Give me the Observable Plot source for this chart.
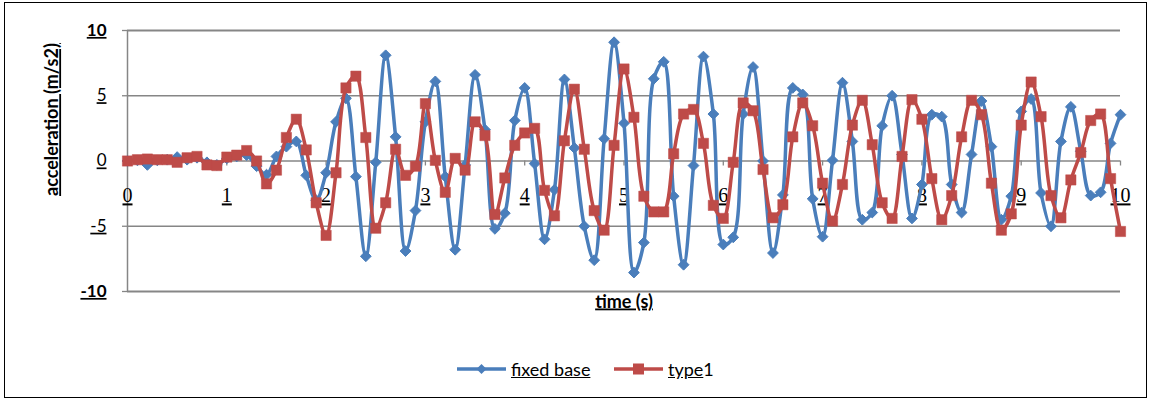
<!DOCTYPE html>
<html>
<head>
<meta charset="utf-8">
<script src="https://cdn.jsdelivr.net/npm/d3@7"></script>
<script src="https://cdn.jsdelivr.net/npm/@observablehq/plot@0.6"></script>
<style>
  html, body { margin: 0; padding: 0; background: #fff; }
  #wrap { position: relative; width: 1150px; height: 401px; overflow: hidden; }
  #wrap svg text { text-decoration: underline; }
  #border { position: absolute; left: 4px; top: 2px; width: 1141px; height: 394px; border: 1.5px solid #000; pointer-events: none; }
  .leg { position: absolute; top: 357px; height: 24px; font-family: Lato, sans-serif; font-size: 18px; line-height: 24px; color: #000; white-space: nowrap; }
  .leg svg { position: absolute; top: 0; }
  .u { text-decoration: underline; }
</style>
</head>
<body>
<div id="wrap"><div id="border"></div></div>
<script>
// time in seconds
const time = [0.0,0.1,0.2,0.3,0.4,0.5,0.6,0.7,0.8,0.9,1.0,1.1,1.2,1.3,1.4,1.5,1.6,1.7,1.8,1.9,2.0,2.1,2.2,2.3,2.4,2.5,2.6,2.7,2.8,2.9,3.0,3.1,3.2,3.3,3.4,3.5,3.6,3.7,3.8,3.9,4.0,4.1,4.2,4.3,4.4,4.5,4.6,4.7,4.8,4.9,5.0,5.1,5.2,5.3,5.4,5.5,5.6,5.7,5.8,5.9,6.0,6.1,6.2,6.3,6.4,6.5,6.6,6.7,6.8,6.9,7.0,7.1,7.2,7.3,7.4,7.5,7.6,7.7,7.8,7.9,8.0,8.1,8.2,8.3,8.4,8.5,8.6,8.7,8.8,8.9,9.0,9.1,9.2,9.3,9.4,9.5,9.6,9.7,9.8,9.9,10.0];

// fixed base acceleration (m/s2)
const fixedBase = [0,0.05,-0.3,0.05,0.1,0.3,0.1,0.25,-0.1,-0.3,
  0.2,0.35,0.45,-0.4,-1.05,0.35,1.1,1.5,-1.1,-3.0,
  -0.9,3.0,4.8,-1.2,-7.3,-0.1,8.1,1.85,-6.9,-3.8,
  3.0,6.1,-1.2,-6.8,-0.3,6.6,2.4,-5.2,-4.0,3.1,
  5.6,-0.2,-6.0,-2.2,6.25,1.0,-5.0,-7.6,1.7,9.1,
  2.9,-8.55,-6.25,6.3,7.6,-2.7,-7.95,-0.35,8.0,3.6,
  -6.4,-5.85,3.6,7.2,0,-7.05,-2.6,5.6,5.1,-2.9,
  -5.8,0.05,6.0,1.5,-4.5,-3.95,2.7,5.0,0.5,-4.4,
  -1.8,3.55,3.4,-1.8,-3.95,0.5,4.6,1.1,-4.5,-2.7,
  3.8,4.75,-2.45,-5.0,1.5,4.15,0.75,-2.65,-2.4,1.35,
  3.55];

// type1 acceleration (m/s2)
const type1 = [0,0.1,0.15,0.1,0.1,-0.1,0.25,0.35,-0.3,-0.35,
  0.3,0.45,0.8,0,-1.75,-0.7,1.8,3.2,0.85,-3.2,
  -5.7,-0.9,5.6,6.5,1.8,-5.15,-3.2,0.9,-1.1,-0.4,
  4.4,0.05,-2.4,0.2,-0.7,3.0,1.95,-4.1,-1.3,1.2,
  2.15,2.5,-2.25,-4.2,1.55,5.5,0.9,-3.8,-5.3,1.2,
  7.05,3.35,-2.7,-3.9,-3.9,0.55,3.6,3.95,1.35,-3.4,
  -4.4,-0.1,4.45,3.85,-0.65,-4.35,-3.35,1.85,4.45,2.7,
  -1.7,-4.6,-1.8,2.75,4.65,1.25,-3.2,-4.4,0.35,4.7,
  3.2,-1.35,-4.5,-2.65,1.85,4.65,3.55,-1.7,-5.3,-4.05,
  2.75,6.05,3.4,-2.65,-4.35,-1.45,0.65,3.1,3.6,-1.35,
  -5.4];

const xTicks = [0,1,2,3,4,5,6,7,8,9,10];
const yTicks = [-10,-5,0,5,10];
const seriesNames = ["fixed base", "type1"];

const blue = "#4A7EBB";
const red = "#BE4B48";
const grid = "#868686";

const data = time.map((t, i) => ({t, fixed: fixedBase[i], type1: type1[i]}));

const diamond = {
  draw(context, size) {
    const r = Math.sqrt(size / 2);
    context.moveTo(0, -r);
    context.lineTo(r, 0);
    context.lineTo(0, r);
    context.lineTo(-r, 0);
    context.closePath();
  }
};

const chart = Plot.plot({
  width: 1150,
  height: 401,
  marginLeft: 127,
  marginRight: 30,
  marginTop: 30,
  marginBottom: 110,
  style: {background: "transparent", overflow: "visible"},
  x: {domain: [0, 10], axis: null},
  y: {domain: [-10, 10], axis: null},
  marks: [
    Plot.ruleY(yTicks.filter(d => Math.abs(d) !== 10), {stroke: grid, strokeWidth: 1.3}),
    Plot.ruleY(yTicks.filter(d => Math.abs(d) === 10), {stroke: grid, strokeWidth: 2.2}),
    Plot.ruleX([0], {stroke: grid, strokeWidth: 1.5}),
    Plot.ruleY(yTicks, {y: d => d, x1: 0, x2: 0, insetLeft: -5, stroke: grid, strokeWidth: 1.3}),
    Plot.ruleX(xTicks, {x: d => d, y1: 0, y2: 0, insetBottom: -5, stroke: grid, strokeWidth: 1.3}),
    Plot.text(yTicks.filter(d => Math.abs(d) !== 10), {x: 0, y: d => d, dx: -21, text: d => String(d), textAnchor: "end", fontFamily: "Lato, sans-serif", fontSize: 17, fill: "#000"}),
    Plot.text(yTicks.filter(d => Math.abs(d) === 10), {x: 0, y: d => d, dx: -21, text: d => String(d), textAnchor: "end", fontFamily: "Lato, sans-serif", fontSize: 17, fontWeight: "bold", fill: "#000"}),
    Plot.text(xTicks, {x: d => d, y: 0, dy: 35, text: d => String(d), fontFamily: "'Liberation Serif', serif", fontSize: 20, fill: "#000"}),
    Plot.text(["acceleration (m/s2)"], {frameAnchor: "left", dx: -75, dy: 35, rotate: -90, text: d => d, fontFamily: "Lato, sans-serif", fontSize: 18, fontWeight: "bold", fill: "#000"}),
    Plot.text(["time (s)"], {frameAnchor: "bottom", dy: 16, text: d => d, fontFamily: "Lato, sans-serif", fontSize: 18, fontWeight: "bold", fill: "#000"}),
    Plot.line(data, {x: "t", y: "fixed", stroke: blue, strokeWidth: 3.5, curve: "catmull-rom"}),
    Plot.dot(data, {x: "t", y: "fixed", symbol: diamond, r: 4.3, fill: blue, stroke: blue, strokeWidth: 1}),
    Plot.line(data, {x: "t", y: "type1", stroke: red, strokeWidth: 3.5, curve: "catmull-rom"}),
    Plot.dot(data, {x: "t", y: "type1", symbol: "square", r: 5.8, fill: red, stroke: red, strokeWidth: 0.5})
  ]
});

const wrap = document.getElementById("wrap");
wrap.insertBefore(chart, wrap.firstChild);

// legend
function legendItem(left, color, kind, underlinedPart, rest) {
  const div = document.createElement("div");
  div.className = "leg";
  div.style.left = left + "px";
  const sw = 49;
  let marker;
  if (kind === "diamond") {
    marker = `<path d="M${sw/2},${12-5} L${sw/2+5},12 L${sw/2},${12+5} L${sw/2-5},12 Z" fill="${color}"/>`;
  } else {
    marker = `<rect x="${sw/2-5.5}" y="${12-5.5}" width="11" height="11" fill="${color}"/>`;
  }
  div.innerHTML = `<svg width="${sw}" height="24" style="left:0"><line x1="0" x2="${sw}" y1="12" y2="12" stroke="${color}" stroke-width="3.5"/>${marker}</svg>` +
    `<span style="position:absolute;left:${sw + 5}px;top:0"><span class="u">${underlinedPart}</span>${rest}</span>`;
  wrap.appendChild(div);
}
legendItem(457, blue, "diamond", seriesNames[0], "");
legendItem(614, red, "square", seriesNames[1].slice(0, 4), seriesNames[1].slice(4));
</script>
</body>
</html>
